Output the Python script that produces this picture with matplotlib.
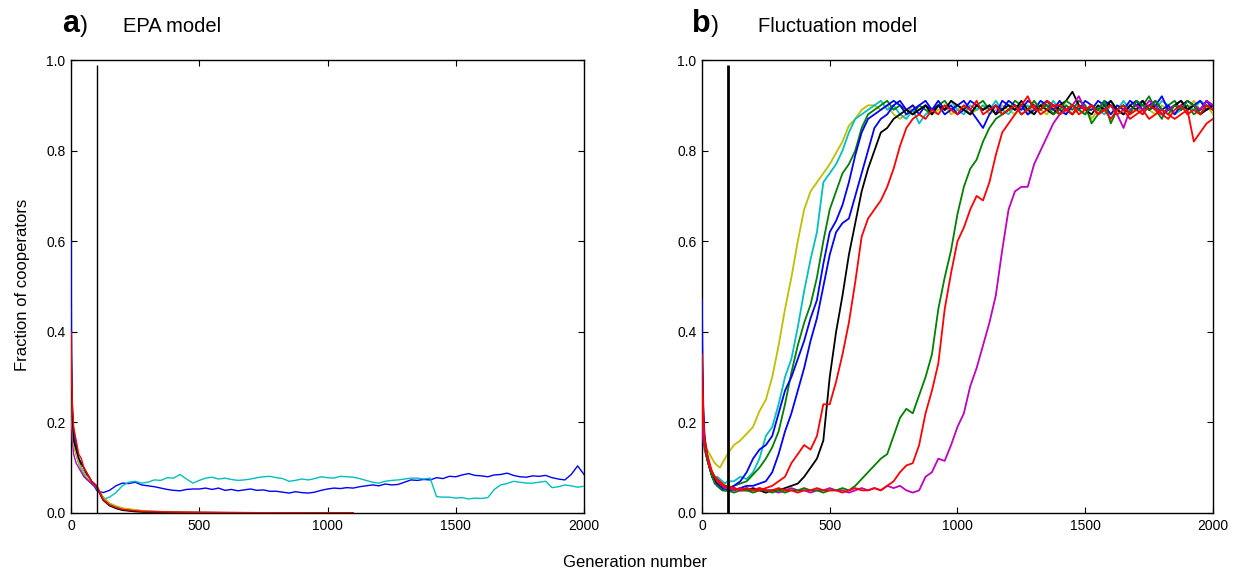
import matplotlib
matplotlib.use('Agg')
import matplotlib.pyplot as plt
from matplotlib.ticker import FormatStrFormatter

plt.rcParams['font.family'] = ['Liberation Sans', 'DejaVu Sans']

# generation grid (dense at the start, then every 25 generations)
gen = [0, 2, 5, 10, 20, 30, 40, 50, 60, 70, 80, 90, 100] + list(range(125, 2001, 25))
# shorter grid for the runs that die out in the EPA model
gen_ext = [0, 2, 5, 10, 20, 30, 40, 50, 60, 70, 80, 90, 100,
           125, 150, 175, 200, 250, 300, 400, 600, 800, 1100]

xticks = [0, 500, 1000, 1500, 2000]
yticks = [0.0, 0.2, 0.4, 0.6, 0.8, 1.0]
cut_gen = 100

C_B = (0, 0, 1)
C_G = (0, 0.5, 0)
C_R = (1, 0, 0)
C_C = (0, 0.75, 0.75)
C_M = (0.75, 0, 0.75)
C_Y = (0.75, 0.75, 0)
C_K = (0, 0, 0)

# ---------------- a) EPA model ----------------
a_blue = [0.60, 0.35, 0.24, 0.18, 0.15, 0.12, 0.11, 0.10, 0.085, 0.08, 0.07, 0.06, 0.05,
          0.045, 0.05, 0.06, 0.066, 0.065, 0.068, 0.062, 0.06,
          0.058, 0.055, 0.052, 0.05, 0.049, 0.052, 0.053, 0.053,
          0.055, 0.052, 0.055, 0.05, 0.052, 0.049, 0.051, 0.053,
          0.05, 0.051, 0.048, 0.048, 0.046, 0.044, 0.047, 0.045,
          0.044, 0.046, 0.05, 0.053, 0.055, 0.054, 0.056, 0.055,
          0.058, 0.06, 0.062, 0.06, 0.064, 0.062, 0.063, 0.068,
          0.073, 0.072, 0.074, 0.073, 0.078, 0.076, 0.081, 0.08,
          0.084, 0.087, 0.083, 0.082, 0.08, 0.084, 0.085, 0.088,
          0.083, 0.08, 0.079, 0.082, 0.081, 0.083, 0.078, 0.075,
          0.073, 0.085, 0.104, 0.085]
a_cyan = [0.45, 0.30, 0.22, 0.17, 0.14, 0.12, 0.10, 0.09, 0.08, 0.075, 0.07, 0.065, 0.055,
          0.03, 0.035, 0.045, 0.06, 0.068, 0.07, 0.066, 0.068,
          0.073, 0.072, 0.078, 0.077, 0.085, 0.075, 0.066, 0.072,
          0.077, 0.079, 0.075, 0.077, 0.074, 0.072, 0.073, 0.075,
          0.078, 0.08, 0.081, 0.078, 0.076, 0.07, 0.072, 0.075,
          0.073, 0.076, 0.08, 0.078, 0.077, 0.081, 0.08, 0.079,
          0.076, 0.072, 0.068, 0.066, 0.07, 0.072, 0.073, 0.075,
          0.077, 0.077, 0.075, 0.077, 0.036, 0.035, 0.035, 0.033,
          0.034, 0.031, 0.033, 0.032, 0.034, 0.052, 0.062, 0.065,
          0.07, 0.068, 0.066, 0.066, 0.068, 0.07, 0.056, 0.058,
          0.062, 0.06, 0.057, 0.059]

a_ext_blue = [0.50, 0.30, 0.22, 0.17, 0.14, 0.12, 0.10, 0.09, 0.08, 0.07, 0.065, 0.06, 0.055,
              0.035, 0.02, 0.014, 0.01, 0.006, 0.004, 0.002, 0.001, 0.0005, 0.0]
a_ext_green = [0.35, 0.25, 0.20, 0.16, 0.13, 0.11, 0.10, 0.085, 0.075, 0.07, 0.065, 0.06, 0.055,
               0.03, 0.018, 0.012, 0.008, 0.004, 0.002, 0.001, 0.0005, 0.0, 0.0]
a_ext_cyan = [0.33, 0.24, 0.19, 0.15, 0.13, 0.11, 0.095, 0.085, 0.08, 0.07, 0.065, 0.06, 0.055,
              0.032, 0.02, 0.013, 0.009, 0.005, 0.003, 0.001, 0.0, 0.0, 0.0]
a_ext_magenta = [0.30, 0.20, 0.16, 0.13, 0.11, 0.10, 0.09, 0.08, 0.075, 0.07, 0.065, 0.06, 0.055,
                 0.03, 0.017, 0.011, 0.007, 0.004, 0.002, 0.001, 0.0, 0.0, 0.0]
a_ext_yellow = [0.35, 0.25, 0.19, 0.15, 0.13, 0.11, 0.10, 0.09, 0.08, 0.075, 0.07, 0.065, 0.06,
                0.035, 0.022, 0.016, 0.011, 0.007, 0.004, 0.002, 0.001, 0.0, 0.0]
a_ext_black = [0.38, 0.28, 0.21, 0.16, 0.14, 0.12, 0.11, 0.10, 0.09, 0.08, 0.07, 0.065, 0.06,
               0.028, 0.016, 0.01, 0.006, 0.003, 0.002, 0.001, 0.0, 0.0, 0.0]
a_ext_red = [0.40, 0.30, 0.24, 0.19, 0.16, 0.13, 0.12, 0.10, 0.09, 0.08, 0.07, 0.065, 0.06,
             0.03, 0.018, 0.012, 0.008, 0.005, 0.003, 0.002, 0.001, 0.0005, 0.0]

# ---------------- b) Fluctuation model ----------------
b_yellow = [0.30, 0.25, 0.20, 0.16, 0.14, 0.13, 0.12, 0.11, 0.105, 0.10, 0.11, 0.12, 0.13,
            0.15, 0.16, 0.175, 0.19, 0.225, 0.25, 0.30, 0.37,
            0.45, 0.52, 0.60, 0.67, 0.71, 0.73, 0.75, 0.77,
            0.795, 0.82, 0.855, 0.87, 0.89, 0.90, 0.90, 0.89,
            0.90, 0.88, 0.87, 0.88, 0.90, 0.89, 0.90, 0.88,
            0.89, 0.90, 0.88, 0.89, 0.90, 0.88, 0.89, 0.90,
            0.88, 0.89, 0.90, 0.89, 0.88, 0.90, 0.89, 0.91,
            0.89, 0.88, 0.90, 0.89, 0.90, 0.88, 0.89, 0.90,
            0.87, 0.89, 0.90, 0.88, 0.89, 0.90, 0.88, 0.89,
            0.90, 0.89, 0.88, 0.90, 0.89, 0.88, 0.90, 0.89,
            0.91, 0.89, 0.90, 0.88]
b_cyan = [0.35, 0.28, 0.20, 0.15, 0.12, 0.10, 0.09, 0.08, 0.08, 0.075, 0.07, 0.065, 0.07,
          0.07, 0.08, 0.075, 0.09, 0.12, 0.17, 0.19, 0.24,
          0.30, 0.34, 0.41, 0.49, 0.56, 0.62, 0.73, 0.75,
          0.77, 0.80, 0.84, 0.87, 0.88, 0.89, 0.90, 0.91,
          0.89, 0.90, 0.88, 0.87, 0.89, 0.86, 0.88, 0.89,
          0.90, 0.89, 0.91, 0.89, 0.88, 0.90, 0.89, 0.90,
          0.89, 0.91, 0.89, 0.88, 0.90, 0.89, 0.90, 0.88,
          0.90, 0.89, 0.91, 0.89, 0.88, 0.90, 0.89, 0.88,
          0.90, 0.89, 0.88, 0.90, 0.89, 0.91, 0.89, 0.90,
          0.88, 0.90, 0.89, 0.91, 0.90, 0.88, 0.89, 0.90,
          0.89, 0.91, 0.90, 0.89]
b_green1 = [0.40, 0.30, 0.22, 0.16, 0.12, 0.10, 0.08, 0.07, 0.065, 0.06, 0.055, 0.05, 0.055,
            0.06, 0.065, 0.07, 0.085, 0.10, 0.12, 0.145, 0.18,
            0.24, 0.31, 0.37, 0.42, 0.46, 0.52, 0.60, 0.67,
            0.71, 0.75, 0.77, 0.80, 0.85, 0.88, 0.89, 0.90,
            0.91, 0.89, 0.90, 0.89, 0.88, 0.90, 0.89, 0.88,
            0.90, 0.91, 0.89, 0.90, 0.89, 0.88, 0.90, 0.91,
            0.89, 0.90, 0.88, 0.89, 0.91, 0.90, 0.88, 0.89,
            0.90, 0.91, 0.89, 0.88, 0.90, 0.89, 0.91, 0.90,
            0.86, 0.88, 0.90, 0.91, 0.89, 0.90, 0.88, 0.91,
            0.90, 0.92, 0.89, 0.87, 0.90, 0.91, 0.89, 0.90,
            0.88, 0.89, 0.91, 0.90]
b_blue1 = [0.47, 0.33, 0.24, 0.17, 0.13, 0.10, 0.08, 0.07, 0.06, 0.055, 0.05, 0.05, 0.05,
           0.06, 0.07, 0.09, 0.12, 0.14, 0.15, 0.17, 0.22,
           0.27, 0.30, 0.34, 0.38, 0.43, 0.47, 0.55, 0.62,
           0.645, 0.68, 0.73, 0.79, 0.84, 0.87, 0.88, 0.89,
           0.90, 0.91, 0.90, 0.88, 0.89, 0.90, 0.91, 0.89,
           0.90, 0.88, 0.89, 0.90, 0.91, 0.89, 0.87, 0.85,
           0.88, 0.90, 0.89, 0.91, 0.90, 0.89, 0.91, 0.90,
           0.89, 0.91, 0.90, 0.89, 0.88, 0.90, 0.89, 0.91,
           0.90, 0.89, 0.91, 0.90, 0.89, 0.88, 0.90, 0.91,
           0.89, 0.90, 0.91, 0.89, 0.90, 0.88, 0.90, 0.91,
           0.90, 0.89, 0.91, 0.89]
b_blue2 = [0.30, 0.25, 0.20, 0.16, 0.12, 0.10, 0.08, 0.07, 0.065, 0.06, 0.055, 0.05, 0.05,
           0.05, 0.055, 0.06, 0.06, 0.065, 0.07, 0.09, 0.13,
           0.18, 0.22, 0.27, 0.32, 0.38, 0.43, 0.50, 0.57,
           0.62, 0.64, 0.65, 0.70, 0.75, 0.80, 0.85, 0.87,
           0.88, 0.90, 0.91, 0.89, 0.90, 0.88, 0.90, 0.89,
           0.91, 0.89, 0.90, 0.88, 0.89, 0.91, 0.90, 0.89,
           0.90, 0.88, 0.91, 0.90, 0.89, 0.90, 0.88, 0.89,
           0.91, 0.90, 0.89, 0.91, 0.89, 0.88, 0.90, 0.89,
           0.89, 0.91, 0.90, 0.88, 0.90, 0.89, 0.91, 0.90,
           0.91, 0.89, 0.90, 0.92, 0.89, 0.90, 0.91, 0.89,
           0.90, 0.91, 0.89, 0.90]
b_black = [0.32, 0.26, 0.20, 0.15, 0.12, 0.10, 0.085, 0.075, 0.07, 0.065, 0.06, 0.06, 0.055,
           0.055, 0.05, 0.05, 0.055, 0.05, 0.045, 0.05, 0.05,
           0.055, 0.06, 0.065, 0.08, 0.10, 0.12, 0.16, 0.30,
           0.40, 0.48, 0.57, 0.64, 0.71, 0.76, 0.80, 0.84,
           0.85, 0.87, 0.88, 0.89, 0.88, 0.89, 0.90, 0.88,
           0.90, 0.89, 0.91, 0.90, 0.89, 0.88, 0.90, 0.89,
           0.90, 0.88, 0.89, 0.90, 0.89, 0.91, 0.89, 0.88,
           0.90, 0.89, 0.88, 0.90, 0.91, 0.93, 0.90, 0.89,
           0.88, 0.90, 0.89, 0.91, 0.89, 0.88, 0.90, 0.89,
           0.91, 0.89, 0.90, 0.88, 0.89, 0.90, 0.91, 0.89,
           0.90, 0.88, 0.89, 0.90]
b_red1 = [0.35, 0.28, 0.21, 0.16, 0.13, 0.10, 0.09, 0.08, 0.075, 0.07, 0.065, 0.06, 0.055,
          0.055, 0.05, 0.055, 0.05, 0.05, 0.055, 0.06, 0.07,
          0.08, 0.11, 0.13, 0.15, 0.14, 0.17, 0.24, 0.24,
          0.29, 0.35, 0.42, 0.51, 0.61, 0.65, 0.67, 0.69,
          0.72, 0.76, 0.81, 0.85, 0.87, 0.88, 0.87, 0.89,
          0.88, 0.90, 0.89, 0.88, 0.90, 0.89, 0.91, 0.88,
          0.89, 0.90, 0.88, 0.89, 0.90, 0.88, 0.89, 0.90,
          0.88, 0.89, 0.90, 0.88, 0.89, 0.90, 0.88, 0.89,
          0.90, 0.88, 0.89, 0.87, 0.89, 0.90, 0.88, 0.89,
          0.88, 0.90, 0.89, 0.88, 0.87, 0.89, 0.90, 0.88,
          0.89, 0.88, 0.90, 0.89]
b_green2 = [0.30, 0.25, 0.20, 0.15, 0.12, 0.10, 0.08, 0.065, 0.06, 0.055, 0.05, 0.05, 0.05,
            0.045, 0.05, 0.05, 0.045, 0.05, 0.05, 0.045, 0.05,
            0.045, 0.05, 0.05, 0.055, 0.05, 0.05, 0.045, 0.05,
            0.05, 0.055, 0.05, 0.06, 0.075, 0.09, 0.105, 0.12,
            0.13, 0.17, 0.21, 0.23, 0.22, 0.26, 0.30, 0.35,
            0.45, 0.52, 0.58, 0.66, 0.72, 0.76, 0.78, 0.82,
            0.85, 0.87, 0.88, 0.89, 0.90, 0.88, 0.89, 0.91,
            0.89, 0.90, 0.88, 0.89, 0.91, 0.90, 0.89, 0.88,
            0.90, 0.89, 0.91, 0.86, 0.89, 0.90, 0.88, 0.91,
            0.90, 0.89, 0.91, 0.89, 0.88, 0.90, 0.89, 0.91,
            0.90, 0.88, 0.90, 0.89]
b_red2 = [0.33, 0.27, 0.21, 0.16, 0.13, 0.11, 0.09, 0.08, 0.07, 0.065, 0.06, 0.06, 0.06,
          0.055, 0.05, 0.055, 0.05, 0.055, 0.05, 0.05, 0.055,
          0.05, 0.05, 0.045, 0.05, 0.05, 0.055, 0.05, 0.05,
          0.05, 0.045, 0.05, 0.055, 0.05, 0.05, 0.055, 0.05,
          0.06, 0.07, 0.09, 0.105, 0.11, 0.15, 0.22, 0.27,
          0.33, 0.45, 0.53, 0.60, 0.63, 0.67, 0.70, 0.69,
          0.73, 0.79, 0.84, 0.86, 0.88, 0.90, 0.92, 0.89,
          0.89, 0.91, 0.90, 0.90, 0.89, 0.88, 0.90, 0.89,
          0.90, 0.88, 0.89, 0.90, 0.88, 0.89, 0.87, 0.88,
          0.89, 0.87, 0.88, 0.89, 0.88, 0.87, 0.88, 0.89,
          0.82, 0.84, 0.86, 0.87]
b_magenta = [0.20, 0.18, 0.16, 0.14, 0.12, 0.10, 0.09, 0.08, 0.07, 0.065, 0.06, 0.055, 0.055,
             0.05, 0.055, 0.05, 0.05, 0.055, 0.05, 0.05, 0.045,
             0.05, 0.055, 0.05, 0.05, 0.045, 0.05, 0.05, 0.055,
             0.05, 0.05, 0.045, 0.05, 0.055, 0.05, 0.055, 0.05,
             0.06, 0.055, 0.06, 0.05, 0.045, 0.05, 0.08, 0.09,
             0.12, 0.115, 0.15, 0.19, 0.22, 0.28, 0.32, 0.37,
             0.42, 0.48, 0.58, 0.67, 0.71, 0.72, 0.72, 0.77,
             0.80, 0.83, 0.86, 0.88, 0.89, 0.90, 0.92, 0.89,
             0.90, 0.88, 0.89, 0.90, 0.88, 0.85, 0.89, 0.90,
             0.89, 0.91, 0.90, 0.88, 0.89, 0.90, 0.89, 0.91,
             0.90, 0.89, 0.91, 0.90]

a_survivors = [(a_blue, C_B), (a_cyan, C_C)]
a_extinct = [(a_ext_blue, C_B), (a_ext_green, C_G), (a_ext_cyan, C_C), (a_ext_magenta, C_M),
             (a_ext_yellow, C_Y), (a_ext_black, C_K), (a_ext_red, C_R)]
b_runs = [(b_yellow, C_Y), (b_cyan, C_C), (b_green1, C_G), (b_blue1, C_B), (b_blue2, C_B),
          (b_black, C_K), (b_magenta, C_M), (b_green2, C_G), (b_red1, C_R), (b_red2, C_R)]

fig = plt.figure(figsize=(12.4, 5.7), dpi=100)
ax_a = fig.add_axes([0.0573, 0.1, 0.4137, 0.7947])
ax_b = fig.add_axes([0.5661, 0.1, 0.4121, 0.7947])

# lines sit above the frame, as in the original (the x=0 spike colours the left axis)
for vals, col in a_survivors:
    ax_a.plot(gen, vals, color=col, lw=1.0, zorder=3)
for vals, col in a_extinct:
    ax_a.plot(gen_ext, vals, color=col, lw=1.0, zorder=3)
ax_a.vlines(cut_gen, 0, 0.99, color='k', lw=1.0, zorder=5)

for vals, col in b_runs:
    ax_b.plot(gen, vals, color=col, lw=1.3, zorder=3)
ax_b.vlines(cut_gen, 0, 0.99, color='k', lw=2.0, zorder=5)

for ax in (ax_a, ax_b):
    ax.set_xlim(0, 2000)
    ax.set_ylim(0, 1.0)
    ax.set_xticks(xticks)
    ax.set_yticks(yticks)
    ax.yaxis.set_major_formatter(FormatStrFormatter('%.1f'))
    ax.tick_params(direction='in', top=True, right=True, length=4, width=0.8,
                   labelsize=10, pad=4)
    for sp in ax.spines.values():
        sp.set_linewidth(1.0)

# panel titles
fig.text(0.050, 0.944, 'a', fontsize=22, fontweight='bold', va='baseline')
fig.text(0.0645, 0.944, ')', fontsize=17, va='baseline')
fig.text(0.0992, 0.944, 'EPA model', fontsize=14.5, va='baseline')
fig.text(0.558, 0.944, 'b', fontsize=22, fontweight='bold', va='baseline')
fig.text(0.5735, 0.944, ')', fontsize=17, va='baseline')
fig.text(0.611, 0.944, 'Fluctuation model', fontsize=14.5, va='baseline')

fig.text(0.018, 0.5, 'Fraction of cooperators', rotation=90, fontsize=12,
         ha='center', va='center')
fig.text(0.512, 0.013, 'Generation number', fontsize=12, ha='center', va='center')

fig.savefig('out.png', dpi=100)
